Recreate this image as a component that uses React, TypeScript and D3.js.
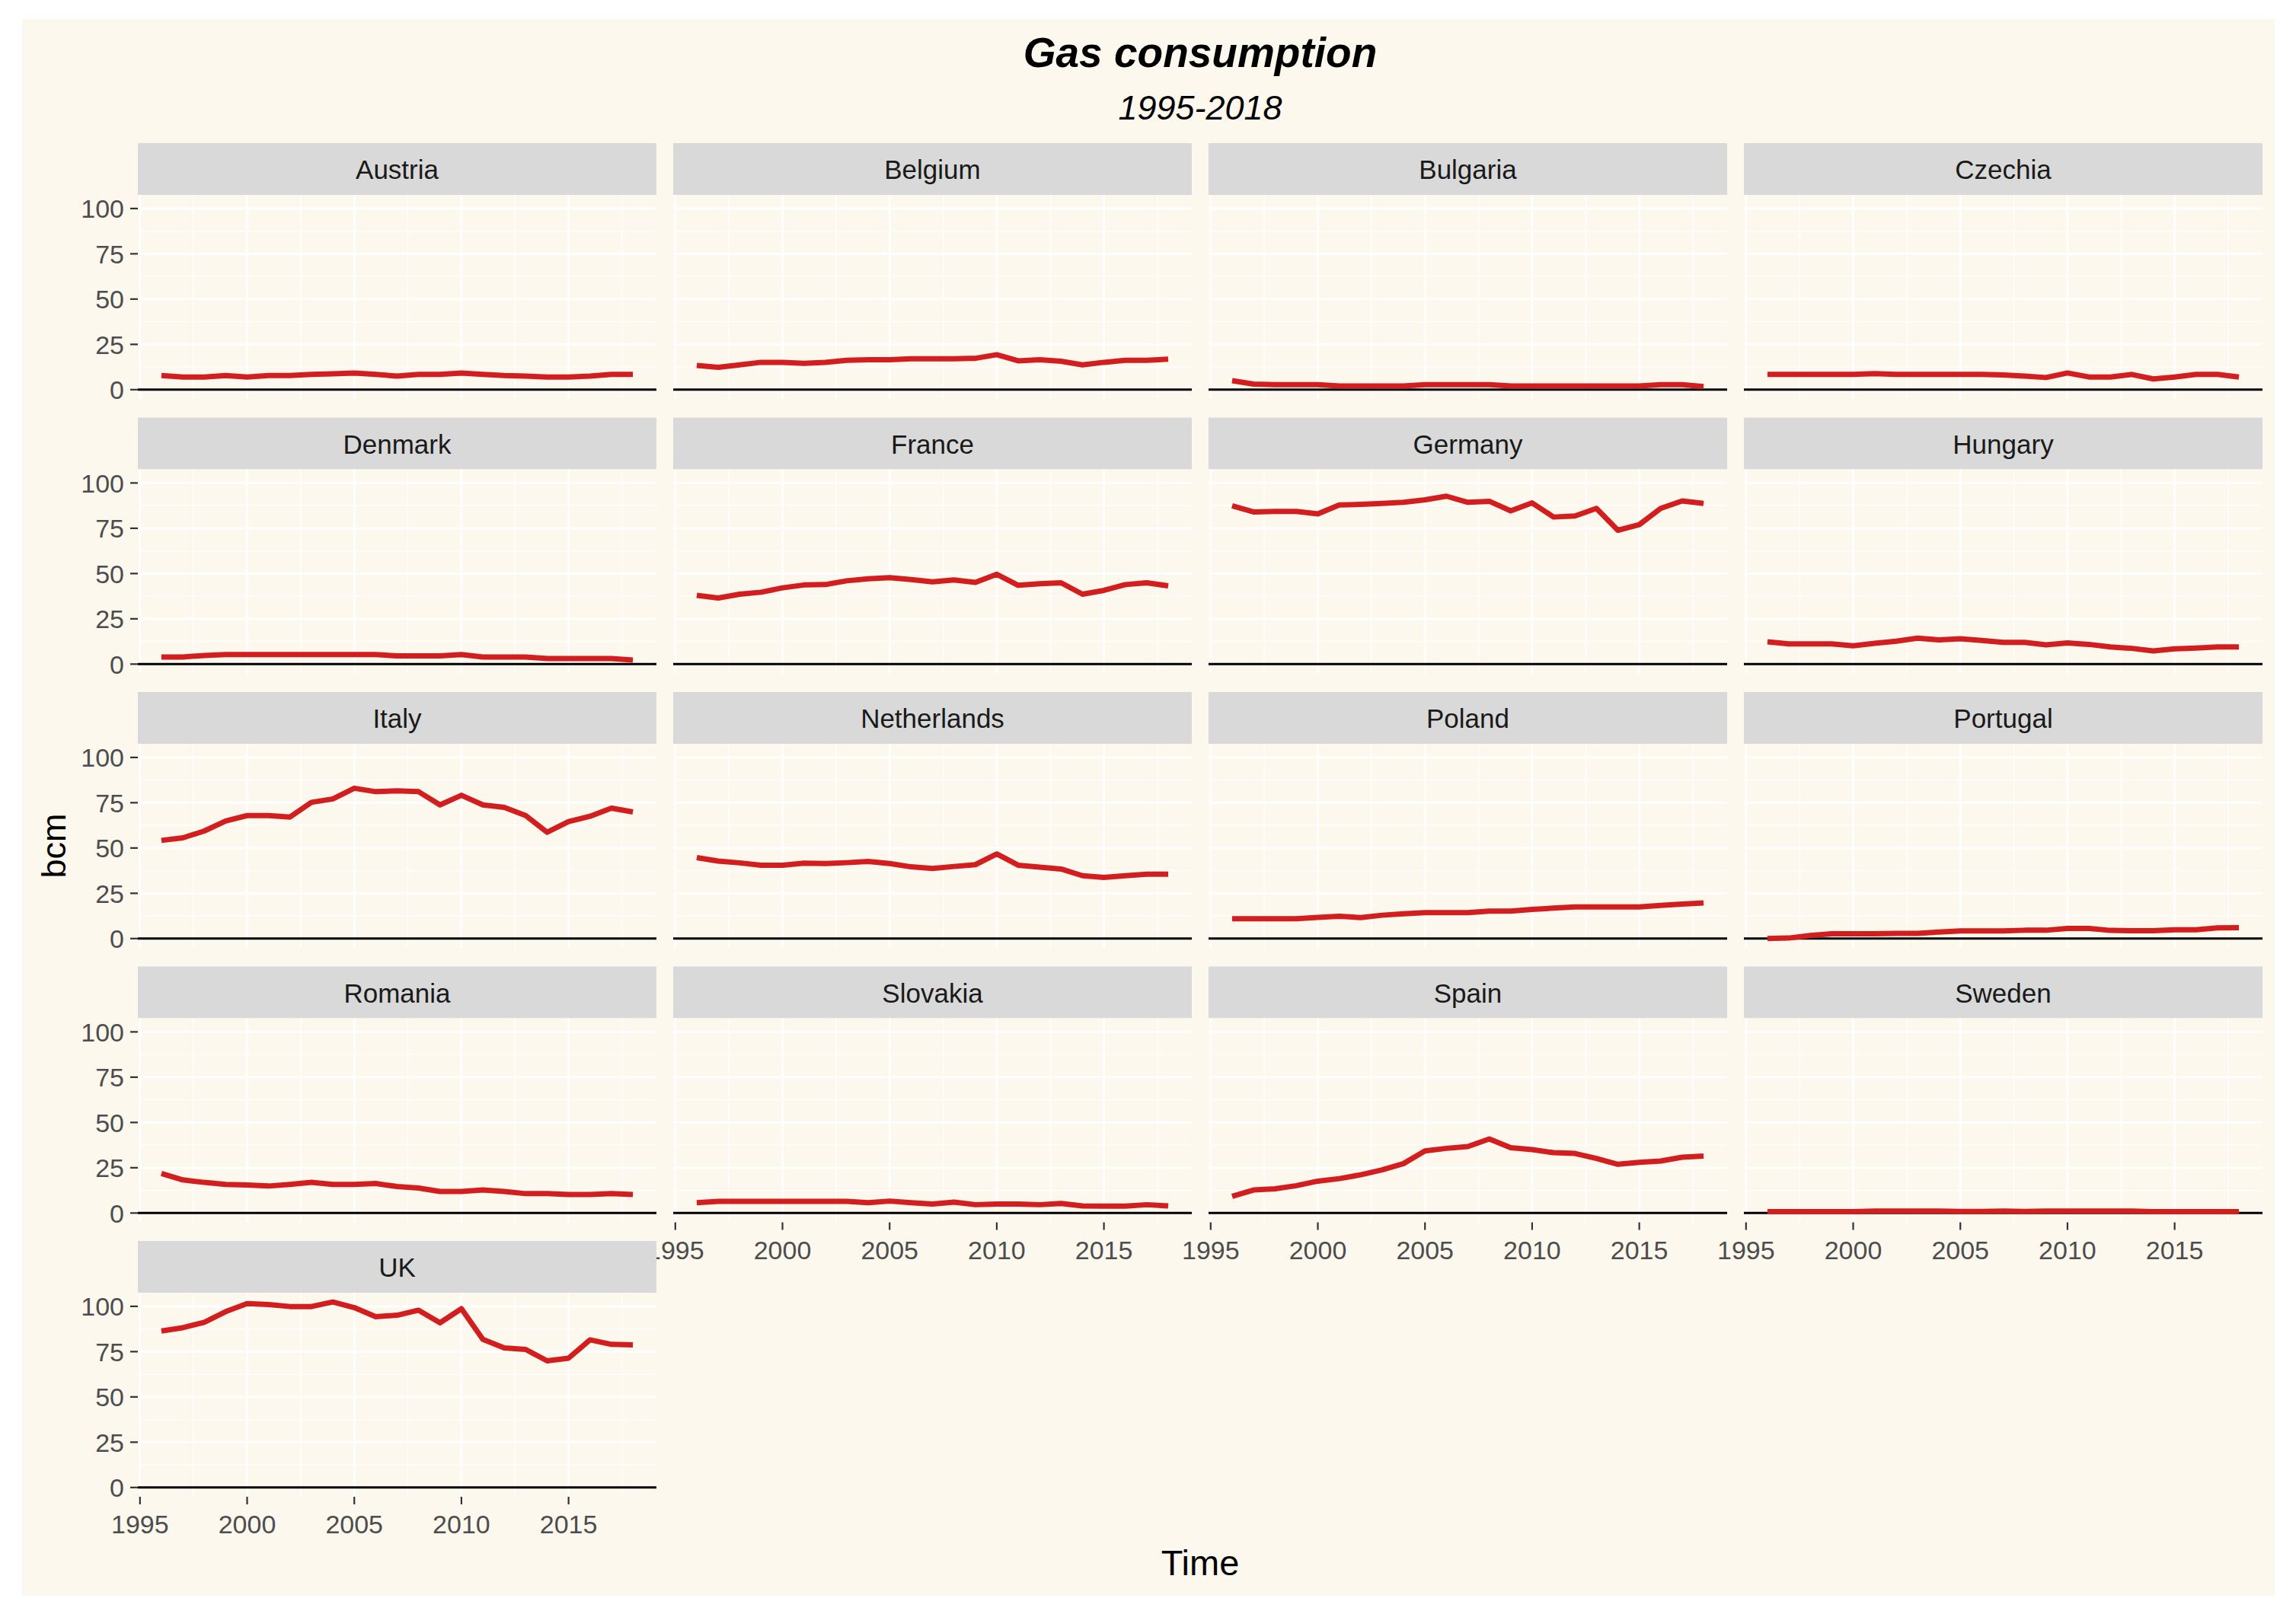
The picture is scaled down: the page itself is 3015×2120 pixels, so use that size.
import React from 'react';
import * as d3 from 'd3';

// Gas consumption by country, bcm, 1996-2018
const years = [1996, 1997, 1998, 1999, 2000, 2001, 2002, 2003, 2004, 2005, 2006, 2007,
  2008, 2009, 2010, 2011, 2012, 2013, 2014, 2015, 2016, 2017, 2018];

const austria = [7.8, 7.0, 7.0, 7.8, 7.0, 7.8, 7.8, 8.4, 8.7, 9.2, 8.4, 7.5, 8.4, 8.4, 9.2, 8.4, 7.8, 7.5, 7.0, 7.0, 7.5, 8.4, 8.4];
const belgium = [13.4, 12.3, 13.7, 15.1, 15.1, 14.5, 15.1, 16.2, 16.5, 16.5, 17.1, 17.1, 17.1, 17.3, 19.3, 15.9, 16.5, 15.7, 13.7, 15.1, 16.2, 16.2, 16.8];
const bulgaria = [5.0, 3.1, 2.8, 2.8, 2.8, 2.0, 2.0, 2.0, 2.0, 2.8, 2.8, 2.8, 2.8, 2.0, 2.0, 2.0, 2.0, 2.0, 2.0, 2.0, 2.8, 2.8, 1.7];
const czechia = [8.4, 8.4, 8.4, 8.4, 8.4, 8.9, 8.4, 8.4, 8.4, 8.4, 8.4, 8.1, 7.5, 6.7, 9.2, 7.0, 7.0, 8.4, 5.9, 7.0, 8.4, 8.4, 7.0];
const denmark = [3.9, 3.9, 4.8, 5.3, 5.3, 5.3, 5.3, 5.3, 5.3, 5.3, 5.3, 4.5, 4.5, 4.5, 5.3, 3.9, 3.9, 3.9, 3.1, 3.1, 3.1, 3.1, 2.2];
const france = [38.0, 36.5, 38.6, 39.7, 42.1, 43.7, 43.9, 46.0, 47.1, 47.7, 46.7, 45.4, 46.5, 45.1, 49.6, 43.5, 44.4, 44.9, 38.6, 40.7, 43.9, 44.9, 43.2];
const germany = [87.4, 84.0, 84.3, 84.3, 82.9, 87.9, 88.2, 88.7, 89.3, 90.7, 92.7, 89.3, 89.9, 84.6, 89.0, 81.2, 81.8, 86.0, 73.9, 77.0, 86.0, 90.1, 88.7];
const hungary = [12.3, 11.2, 11.2, 11.2, 10.1, 11.5, 12.6, 14.3, 13.4, 14.0, 13.1, 12.0, 12.0, 10.6, 11.7, 10.9, 9.5, 8.7, 7.3, 8.4, 8.9, 9.5, 9.5];
const italy = [54.2, 55.6, 59.4, 64.9, 67.9, 67.9, 67.1, 75.2, 77.1, 83.0, 81.1, 81.6, 81.1, 73.8, 79.1, 73.8, 72.4, 67.9, 58.7, 64.6, 67.5, 72.0, 69.9];
const netherlands = [44.7, 42.8, 41.8, 40.5, 40.5, 41.6, 41.4, 41.9, 42.6, 41.4, 39.6, 38.7, 39.8, 40.8, 46.7, 40.5, 39.4, 38.4, 34.7, 33.8, 34.7, 35.5, 35.5];
const poland = [11.0, 11.0, 11.0, 11.0, 11.7, 12.3, 11.6, 12.9, 13.7, 14.3, 14.3, 14.3, 15.2, 15.2, 16.1, 16.8, 17.5, 17.5, 17.5, 17.5, 18.3, 19.0, 19.7];
const portugal = [0.0, 0.3, 1.7, 2.7, 2.7, 2.7, 2.9, 2.9, 3.6, 4.2, 4.2, 4.2, 4.6, 4.6, 5.6, 5.6, 4.5, 4.3, 4.3, 4.9, 4.9, 5.9, 6.0];
const romania = [21.8, 18.3, 16.9, 15.8, 15.5, 14.9, 15.8, 16.9, 15.8, 15.8, 16.3, 14.6, 13.8, 11.9, 11.9, 12.7, 11.9, 10.7, 10.7, 10.2, 10.2, 10.7, 10.2];
const slovakia = [5.7, 6.4, 6.4, 6.4, 6.4, 6.4, 6.4, 6.4, 5.7, 6.6, 5.7, 5.0, 6.0, 4.6, 5.0, 5.0, 4.6, 5.3, 3.9, 3.8, 3.8, 4.6, 3.9];
const spain = [9.2, 12.7, 13.4, 15.1, 17.6, 19.0, 21.1, 23.8, 27.3, 34.3, 35.7, 36.7, 40.9, 36.1, 35.0, 33.3, 32.9, 30.1, 26.9, 28.0, 28.7, 30.8, 31.4];
const sweden = [0.8, 0.8, 0.8, 0.8, 0.8, 1.1, 1.1, 1.1, 1.1, 0.9, 0.9, 1.1, 0.9, 1.1, 1.1, 1.1, 1.1, 1.1, 0.8, 0.8, 0.8, 0.8, 0.8];
const uk = [86.4, 88.2, 91.2, 97.1, 101.5, 101.0, 99.9, 99.9, 102.4, 99.3, 94.3, 95.1, 97.9, 90.9, 98.7, 81.8, 77.0, 76.2, 69.9, 71.4, 81.5, 79.0, 78.7];

const countries = ['Austria', 'Belgium', 'Bulgaria', 'Czechia', 'Denmark', 'France', 'Germany', 'Hungary',
  'Italy', 'Netherlands', 'Poland', 'Portugal', 'Romania', 'Slovakia', 'Spain', 'Sweden', 'UK'];
const series = [austria, belgium, bulgaria, czechia, denmark, france, germany, hungary,
  italy, netherlands, poland, portugal, romania, slovakia, spain, sweden, uk];

const yTicks = [0, 25, 50, 75, 100];
const yMinor = [12.5, 37.5, 62.5, 87.5];
const xTicks = [1995, 2000, 2005, 2010, 2015];
const xMinor = [1997.5, 2002.5, 2007.5, 2012.5, 2017.5];

const W = 3015;
const H = 2120;
const NCOL = 4;
const panelW = 681;
const panelH = 268;
const stripH = 68;
const colLeft = (c: number) => 181 + c * 703;
const rowTop = (r: number) => 188 + r * 360.5;

const font = '"Liberation Sans", Arial, Helvetica, sans-serif';
const bg = '#FDF8EE';
const red = '#D21E1F';

// ggplot-like 5% expansion
const xExt = d3.extent(years) as [number, number];
const xPad = (xExt[1] - xExt[0]) * 0.05;
const x = d3.scaleLinear().domain([xExt[0] - xPad, xExt[1] + xPad]).range([0, panelW]);

const allVals = series.flat();
const yExt = d3.extent(allVals) as [number, number];
const yPad = (yExt[1] - yExt[0]) * 0.05;
const y = d3.scaleLinear().domain([yExt[0] - yPad, yExt[1] + yPad]).range([panelH, 0]);

const line = d3.line<number>()
  .x((_, i) => x(years[i]))
  .y(d => y(d));

const Panel: React.FC<{ idx: number }> = ({ idx }) => {
  const r = Math.floor(idx / NCOL);
  const c = idx % NCOL;
  const showX = idx + NCOL >= countries.length;
  const showY = c === 0;

  return (
    <g transform={`translate(${colLeft(c)},${rowTop(r)})`}>
      <rect x={0} y={0} width={panelW} height={stripH} fill="#D9D9D9" />
      <text x={panelW / 2} y={47} textAnchor="middle" fontSize={35} fill="#1A1A1A" fontFamily={font}>
        {countries[idx]}
      </text>
      <g transform={`translate(0,${stripH})`}>
        <rect x={0} y={0} width={panelW} height={panelH} fill={bg} />
        {yMinor.map(t => (
          <line key={'ym' + t} x1={0} x2={panelW} y1={y(t)} y2={y(t)} stroke="#FFFFFF" strokeWidth={1.3} />
        ))}
        {xMinor.map(t => (
          <line key={'xm' + t} x1={x(t)} x2={x(t)} y1={0} y2={panelH} stroke="#FFFFFF" strokeWidth={1.3} />
        ))}
        {yTicks.map(t => (
          <line key={'yM' + t} x1={0} x2={panelW} y1={y(t)} y2={y(t)} stroke="#FFFFFF" strokeWidth={2.6} />
        ))}
        {xTicks.map(t => (
          <line key={'xM' + t} x1={x(t)} x2={x(t)} y1={0} y2={panelH} stroke="#FFFFFF" strokeWidth={2.6} />
        ))}
        <line x1={0} x2={panelW} y1={y(0)} y2={y(0)} stroke="#000000" strokeWidth={3} />
        <path d={line(series[idx]) || ''} fill="none" stroke={red} strokeWidth={7} strokeLinejoin="round" />

        {showY && yTicks.map(t => (
          <g key={'yt' + t}>
            <line x1={-10} x2={0} y1={y(t)} y2={y(t)} stroke="#333333" strokeWidth={2.2} />
            <text x={-18} y={y(t)} dy="0.36em" textAnchor="end" fontSize={34} fill="#4D4D4D" fontFamily={font}>
              {t}
            </text>
          </g>
        ))}
        {showX && xTicks.map(t => (
          <g key={'xt' + t}>
            <line x1={x(t)} x2={x(t)} y1={panelH} y2={panelH + 10} stroke="#333333" strokeWidth={2.2} />
            <text x={x(t)} y={panelH + 48} textAnchor="middle" fontSize={34} fill="#4D4D4D" fontFamily={font}>
              {t}
            </text>
          </g>
        ))}
      </g>
    </g>
  );
};

export default function App() {
  const plotCenter = (colLeft(0) + colLeft(NCOL - 1) + panelW) / 2;
  return (
    <div style={{ position: 'absolute', left: 0, top: 0 }}>
      <svg width={W} height={H} style={{ display: 'block' }}>
        <rect x={0} y={0} width={W} height={H} fill="#FFFFFF" />
        <rect x={29} y={25} width={2958} height={2071} fill={bg} />
        <text x={plotCenter} y={88} textAnchor="middle" fontSize={55} fontWeight="bold" fontStyle="italic"
          fill="#000000" fontFamily={font}>Gas consumption</text>
        <text x={plotCenter} y={157} textAnchor="middle" fontSize={45} fontStyle="italic"
          fill="#000000" fontFamily={font}>1995-2018</text>
        {countries.map((_, i) => <Panel key={i} idx={i} />)}
        <text x={plotCenter} y={2069} textAnchor="middle" fontSize={47} fill="#000000" fontFamily={font}>Time</text>
        <text transform="translate(86,1111) rotate(-90)" textAnchor="middle" fontSize={45} fill="#000000"
          fontFamily={font}>bcm</text>
      </svg>
    </div>
  );
}
